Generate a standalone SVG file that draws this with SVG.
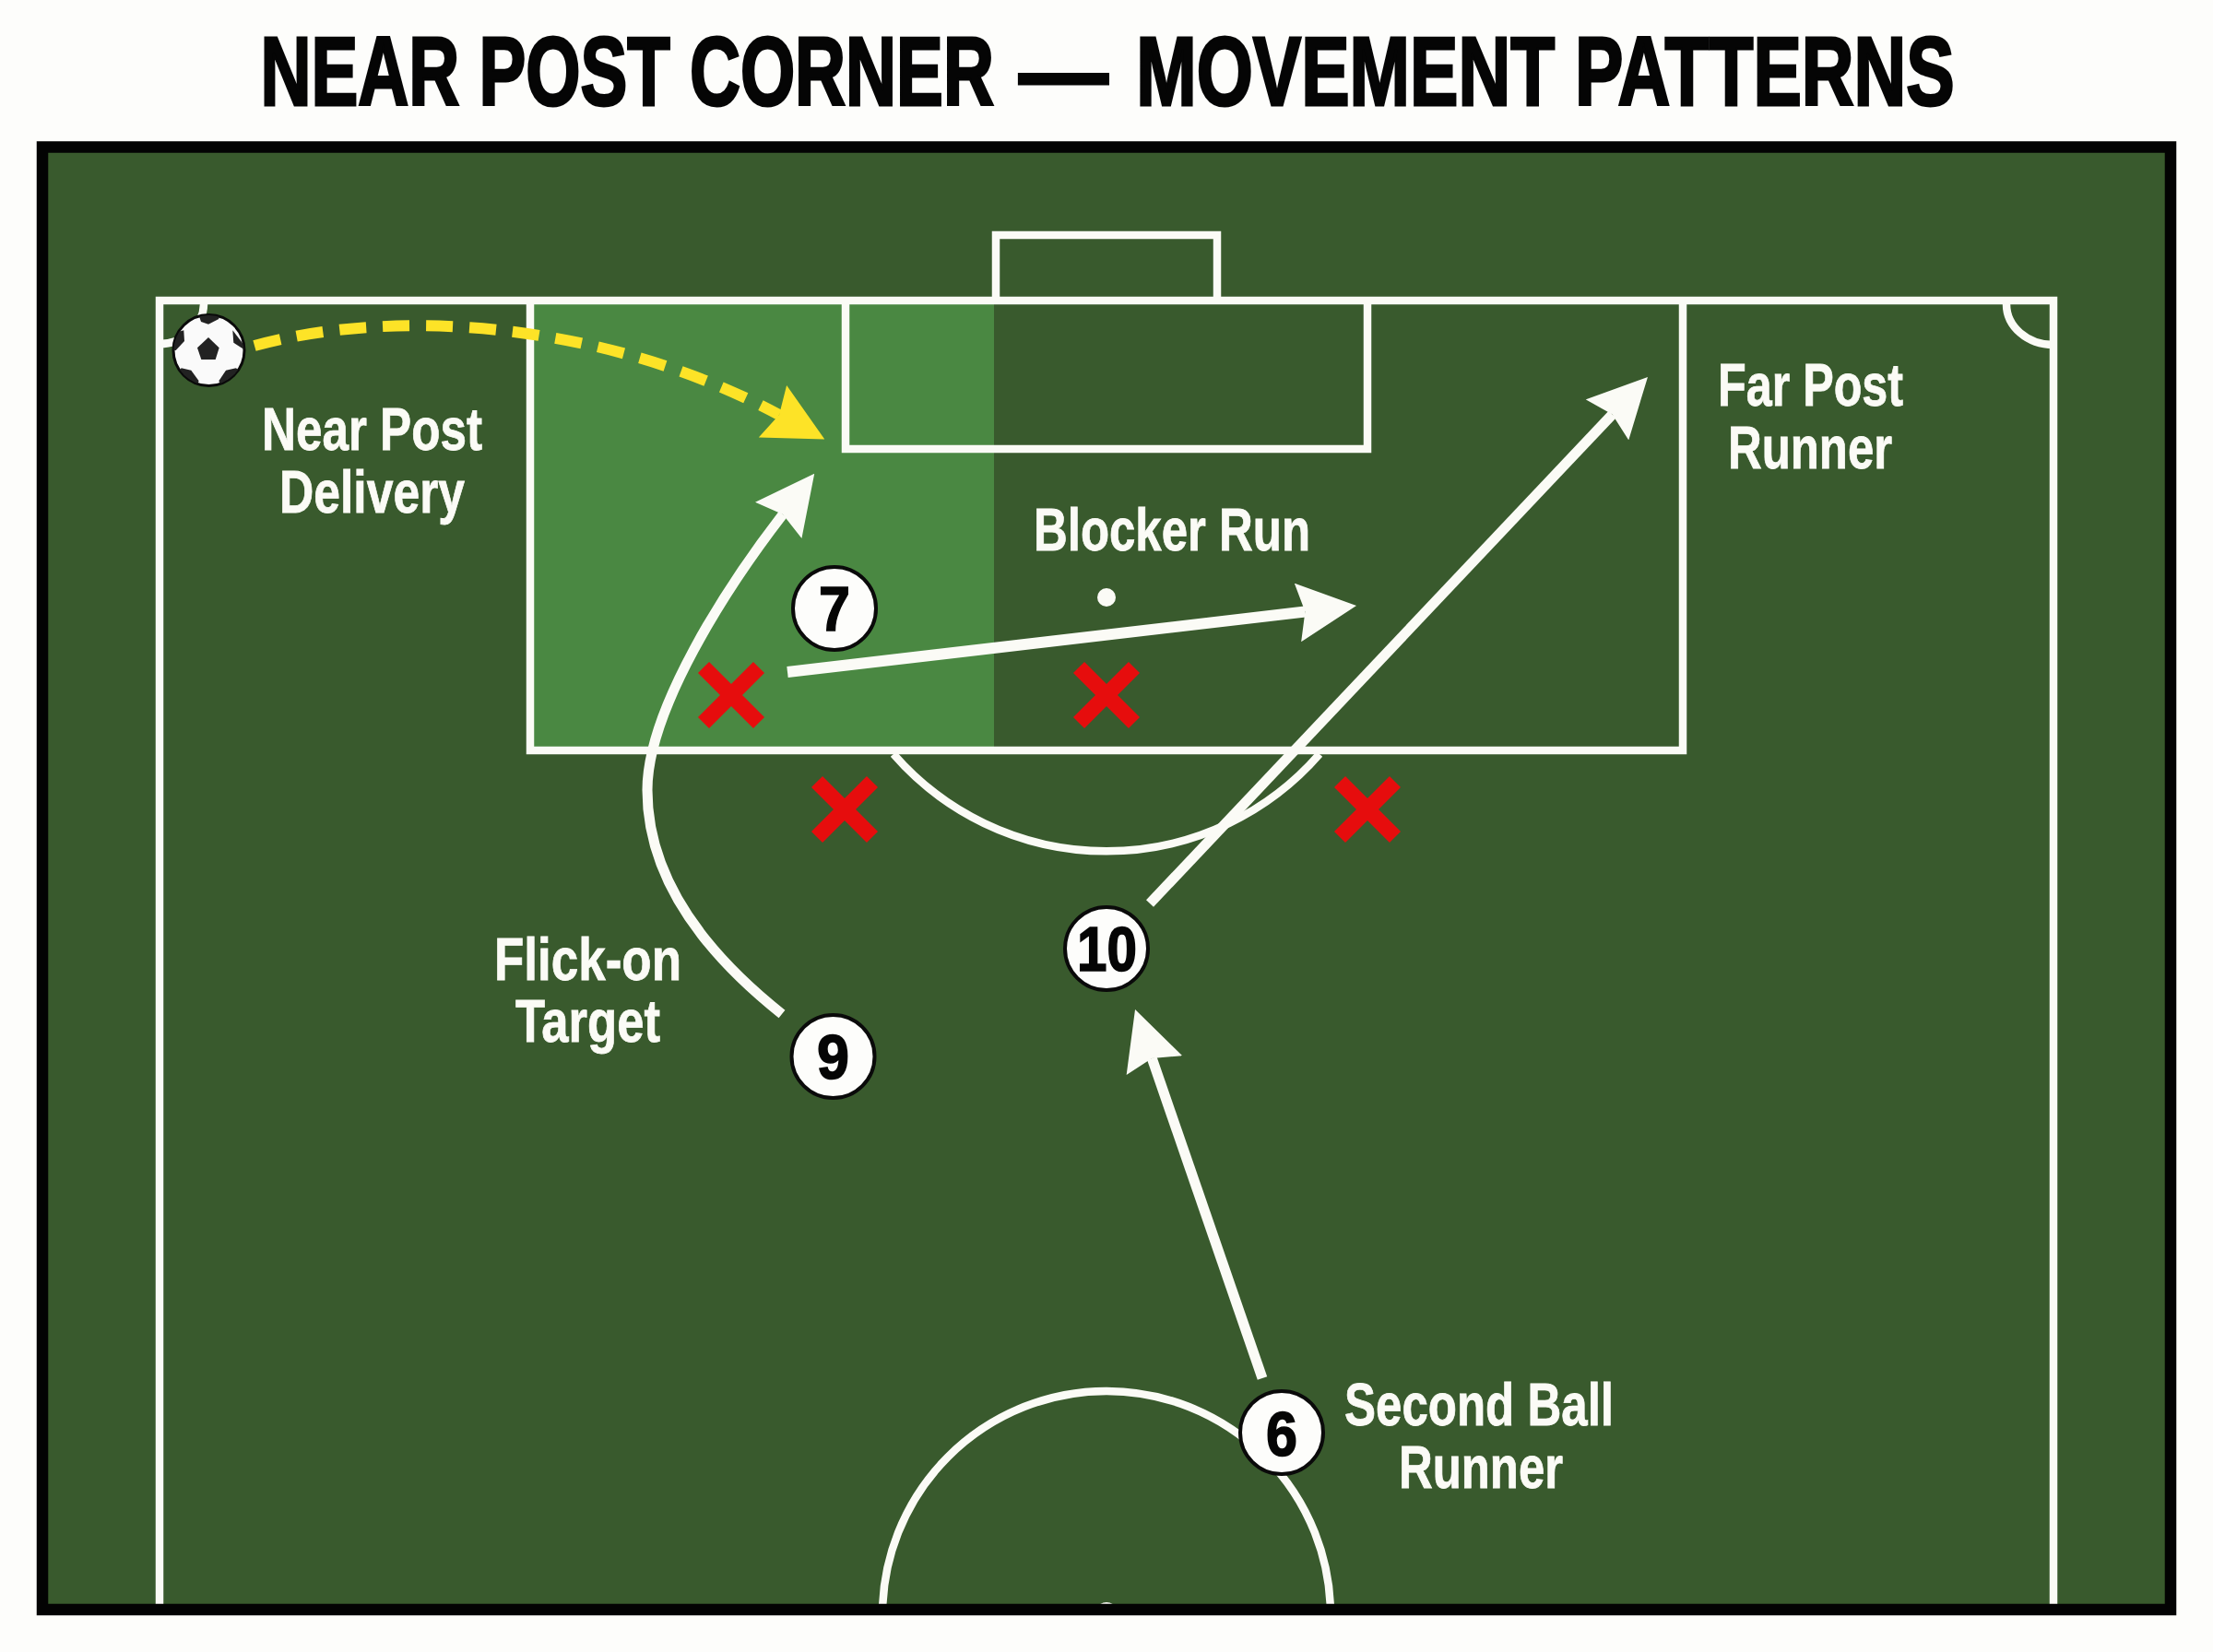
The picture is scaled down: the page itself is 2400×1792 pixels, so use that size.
<svg xmlns="http://www.w3.org/2000/svg" width="2400" height="1792" viewBox="0 0 2400 1792">
<style>
.line{fill:none;stroke:#fbfbf6;stroke-width:8.5}
.run{fill:none;stroke:#fbfbf6;stroke-width:11;marker-end:url(#head)}
.lbl{font-family:"Liberation Sans",Arial,sans-serif;font-weight:700;font-size:64px;fill:#fbfbf6;stroke:#fbfbf6;stroke-width:.8}
.num{font-family:"Liberation Sans",Arial,sans-serif;font-weight:700;font-size:68px;fill:#050505;stroke:#050505;stroke-width:1.6}
.disc{fill:#fdfdfb;stroke:#0a0a0a;stroke-width:4}
.x{fill:none;stroke:#e60d0d;stroke-width:17}
.pat{fill:#222}
</style>
<defs>
<marker id="head" markerUnits="userSpaceOnUse" markerWidth="64" markerHeight="64" viewBox="0 0 64 64" refX="8" refY="32" orient="auto"><path d="M0,0L64,32L0,64L8,32Z" fill="#fbfbf6"/></marker>
<marker id="headY" markerUnits="userSpaceOnUse" markerWidth="64" markerHeight="64" viewBox="0 0 64 64" refX="8" refY="32" orient="auto"><path d="M0,0L64,32L0,64L8,32Z" fill="#fde327"/></marker>
<clipPath id="ballClip"><circle cx="226.5" cy="380" r="38"/></clipPath>
<clipPath id="pitchClip"><rect x="52" y="166" width="2296" height="1574"/></clipPath>
</defs>
<rect width="2400" height="1792" fill="#fdfdfb"/>
<text id="title" transform="translate(281,114) scale(0.742,1)" y="0" font-family="'Liberation Sans',Arial,sans-serif" font-weight="700" font-size="106" fill="#050505" stroke="#050505" stroke-width="3"><tspan x="2" textLength="1072" lengthAdjust="spacingAndGlyphs">NEAR POST CORNER</tspan> <tspan x="1111" textLength="130" lengthAdjust="spacingAndGlyphs">—</tspan> <tspan x="1282" textLength="1196" lengthAdjust="spacingAndGlyphs">MOVEMENT PATTERNS</tspan></text>
<g id="pitch">
<rect x="46" y="159.5" width="2308" height="1586.5" fill="#395a2d"/>
<rect id="zone" x="579" y="330" width="499" height="480" fill="#4a8842"/>
<g clip-path="url(#pitchClip)">
<path class="line" d="M173,1740V326H2227V1740"/>
<path class="line" d="M575,326V814H1825V326"/>
<path class="line" d="M917,326V487H1483V326"/>
<path class="line" d="M1080,326V255H1320V326"/>
<path class="line" d="M221,330A48,44 0 0 1 173,373"/>
<path class="line" d="M2176,330A51,44 0 0 0 2227,374"/>
<path class="line" d="M969,818A306,306 0 0 0 1431,818"/>
<circle cx="1200" cy="648" r="10" fill="#fbfbf6"/>
<circle class="line" cx="1200" cy="1752" r="243"/>
<circle cx="1200" cy="1750" r="12" fill="#fbfbf6"/>
</g>
<rect x="46" y="159.5" width="2308" height="1586.5" fill="none" stroke="#030303" stroke-width="12.5"/>
</g>
<g id="connectors">
<path d="M276,375C420,335 650,345 845,450" fill="none" stroke="#fde327" stroke-width="12" stroke-dasharray="29 18" marker-end="url(#headY)"/>
<path class="run" d="M848,1100C760,1030 702,950 702,857C702,770 788,637 849,558"/>
<path class="run" style="stroke-width:12" d="M854,729L1415.4,663.5"/>
<path class="run" d="M1247,980L1748.5,449.6"/>
<path class="run" d="M1369,1495L1249.3,1148"/>
</g>
<g id="ball">
<circle cx="226.5" cy="380" r="38.5" fill="#fafafa" stroke="#0a0a0a" stroke-width="3"/>
<g clip-path="url(#ballClip)">
<polygon class="pat" points="226,366 237.7,377.3 233.7,390 218.3,390 214,377.3"/>
<polygon class="pat" points="215,340 237.3,340 237.3,346 226,351.7 218,349"/>
<polygon class="pat" points="199.3,358.3 200,370 190.7,380 186,380 186,362"/>
<polygon class="pat" points="252.3,358.3 262.7,371.7 266,380 253.3,371.7"/>
<polygon class="pat" points="196.7,399.3 207.3,401.7 215.7,413.3 213.3,418 200,414 192,405"/>
<polygon class="pat" points="256,399.3 245,401.7 237.3,413.3 240,418 253,413 262,405"/>
</g>
</g>
<g id="defenders">
<path id="x1" class="x" d="M763,724L823,784M823,724L763,784"/>
<path id="x2" class="x" d="M1170,724L1230,784M1230,724L1170,784"/>
<path id="x3" class="x" d="M886,848L946,908M946,848L886,908"/>
<path id="x4" class="x" d="M1453,848L1513,908M1513,848L1453,908"/>
</g>
<g id="player-7"><circle class="disc" cx="905" cy="660" r="45"/><text class="num" x="888" y="684" textLength="34" lengthAdjust="spacingAndGlyphs">7</text></g>
<g id="player-9"><circle class="disc" cx="903.5" cy="1146" r="45"/><text class="num" x="886" y="1170" textLength="35" lengthAdjust="spacingAndGlyphs">9</text></g>
<g id="player-10"><circle class="disc" cx="1200" cy="1029" r="45"/><text class="num" x="1168" y="1053" textLength="65" lengthAdjust="spacingAndGlyphs">10</text></g>
<g id="player-6"><circle class="disc" cx="1390" cy="1554" r="45"/><text class="num" x="1373" y="1579" textLength="34" lengthAdjust="spacingAndGlyphs">6</text></g>
<g id="labels">
<text class="lbl" x="284" y="488" textLength="239" lengthAdjust="spacingAndGlyphs">Near Post</text>
<text class="lbl" x="303" y="556" textLength="201" lengthAdjust="spacingAndGlyphs">Delivery</text>
<text class="lbl" x="1863" y="440" textLength="201" lengthAdjust="spacingAndGlyphs">Far Post</text>
<text class="lbl" x="1874" y="508" textLength="178" lengthAdjust="spacingAndGlyphs">Runner</text>
<text class="lbl" x="1121" y="597" textLength="300" lengthAdjust="spacingAndGlyphs">Blocker Run</text>
<text class="lbl" x="536" y="1063" textLength="203" lengthAdjust="spacingAndGlyphs">Flick-on</text>
<text class="lbl" x="559" y="1130" textLength="157" lengthAdjust="spacingAndGlyphs">Target</text>
<text class="lbl" x="1458" y="1546" textLength="292" lengthAdjust="spacingAndGlyphs">Second Ball</text>
<text class="lbl" x="1517" y="1614" textLength="178" lengthAdjust="spacingAndGlyphs">Runner</text>
</g>
</svg>
